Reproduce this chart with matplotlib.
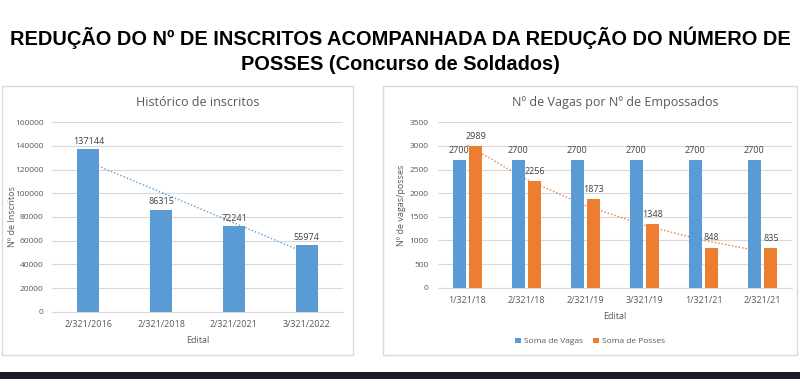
import matplotlib.pyplot as plt
import numpy as np
from matplotlib.patches import Rectangle

# data
editais_insc = ['2/321/2016', '2/321/2018', '2/321/2021', '3/321/2022']
inscritos = [137144, 86315, 72241, 55974]

editais_vagas = ['1/321/18', '2/321/18', '2/321/19', '3/321/19', '1/321/21', '2/321/21']
vagas = [2700, 2700, 2700, 2700, 2700, 2700]
posses = [2989, 2256, 1873, 1348, 848, 835]

blue = '#5B9BD5'
orange = '#ED7D31'
txt = '#595959'
grid = '#D9D9D9'

plt.rcParams['font.family'] = ['Open Sans', 'DejaVu Sans']

fig = plt.figure(figsize=(8, 3.79), dpi=100)
fig.patch.set_facecolor('white')

# titulo
t1 = fig.text(0.5, 1 - 38 / 379, 'REDUÇÃO DO Nº DE INSCRITOS ACOMPANHADA DA REDUÇÃO DO NÚMERO DE',
              ha='center', va='center', fontsize=16, fontweight='bold',
              family=['Liberation Sans', 'DejaVu Sans'], color='black')
t2 = fig.text(0.5, 1 - 64 / 379, 'POSSES (Concurso de Soldados)',
              ha='center', va='center', fontsize=16, fontweight='bold',
              family=['Liberation Sans', 'DejaVu Sans'], color='black')
# ajusta o tamanho para a primeira linha ocupar ~782 px
r = fig.canvas.get_renderer()
w = t1.get_window_extent(r).width
fs = 16 * 782 / w
t1.set_fontsize(fs)
t2.set_fontsize(fs)

# molduras dos paineis
for x0, x1 in [(2, 353), (383, 797)]:
    fig.patches.append(Rectangle((x0 / 800, 1 - 355 / 379), (x1 - x0) / 800, 269 / 379,
                                 transform=fig.transFigure, facecolor='white',
                                 edgecolor='#D9D9D9', lw=1, zorder=-5))
# faixa escura embaixo
fig.patches.append(Rectangle((0, 0), 1, 7 / 379, transform=fig.transFigure,
                             facecolor='#1c1c24', edgecolor='none', zorder=-5))


def style(ax, ypad):
    for s in ['top', 'right', 'left']:
        ax.spines[s].set_visible(False)
    ax.spines['bottom'].set_color(grid)
    ax.yaxis.grid(True, color=grid, lw=0.8)
    ax.set_axisbelow(True)
    ax.tick_params(axis='both', length=0, labelsize=6, colors=txt)
    ax.tick_params(axis='y', pad=ypad)
    ax.tick_params(axis='x', pad=6, labelsize=6.5)
    ax.set_facecolor('none')


# grafico 1
ax1 = fig.add_axes([0.065, 0.1776, 0.364, 0.4997])
x1 = np.arange(len(inscritos))
ax1.bar(x1, inscritos, width=0.3, color=blue, zorder=3)
c = np.polyfit(x1, inscritos, 1)
ax1.plot(x1, np.polyval(c, x1), ls=(0, (1, 1.5)), color=blue, lw=1, zorder=2)
for xi, v in zip(x1, inscritos):
    ax1.text(xi, v + 3000, str(v), ha='center', va='bottom', fontsize=6.5, color='#404040', zorder=4)
ax1.set_xlim(-0.5, 3.5)
ax1.set_ylim(0, 160000)
ax1.set_yticks(range(0, 160001, 20000))
ax1.set_xticks(x1)
ax1.set_xticklabels(editais_insc)
style(ax1, 6)
ax1.set_title('Histórico de inscritos', fontsize=9, color=txt, pad=12)
ax1.set_xlabel('Edital', fontsize=6.5, color=txt, labelpad=5)
ax1.set_ylabel('Nº de Inscritos', fontsize=6.5, color=txt)
ax1.yaxis.set_label_coords(-0.12, 0.5)

# grafico 2
ax2 = fig.add_axes([0.5475, 0.2409, 0.4425, 0.4364])
x2 = np.arange(len(posses))
ax2.bar(x2 - 0.14, vagas, width=0.22, color=blue, zorder=3, label='Soma de Vagas')
ax2.bar(x2 + 0.14, posses, width=0.22, color=orange, zorder=3, label='Soma de Posses')
ce = np.polyfit(x2, np.log(posses), 1)
ax2.plot(x2, np.exp(np.polyval(ce, x2)), ls=(0, (1, 1.5)), color=orange, lw=1, zorder=2)
for xi, v in zip(x2, vagas):
    ax2.text(xi - 0.14, v + 110, str(v), ha='center', va='bottom', fontsize=6.5, color='#404040', zorder=4)
for xi, v in zip(x2, posses):
    ax2.text(xi + 0.14, v + 110, str(v), ha='center', va='bottom', fontsize=6.5, color='#404040', zorder=4)
ax2.set_xlim(-0.5, 5.5)
ax2.set_ylim(0, 3500)
ax2.set_yticks(range(0, 3501, 500))
ax2.set_xticks(x2)
ax2.set_xticklabels(editais_vagas)
style(ax2, 7)
ax2.set_title('Nº de Vagas por Nº de Empossados', fontsize=9, color=txt, pad=12)
ax2.set_xlabel('Edital', fontsize=6.5, color=txt, labelpad=5)
ax2.set_ylabel('Nº de vagas/posses', fontsize=6.5, color=txt)
ax2.yaxis.set_label_coords(-0.09, 0.5)
ax2.legend(loc='center', bbox_to_anchor=(0.43, -0.325), ncol=2, frameon=False,
           fontsize=6, labelcolor=txt, handlelength=0.7, handleheight=0.7,
           columnspacing=1.2, handletextpad=0.4)

plt.savefig('out.png', dpi=100)
